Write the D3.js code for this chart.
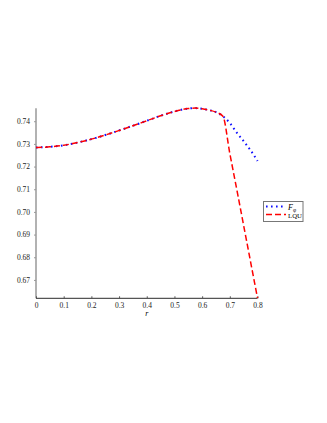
<!DOCTYPE html>
<html><head><meta charset="utf-8">
<script src="https://cdn.jsdelivr.net/npm/d3@7"></script>
<style>body{margin:0;background:#fff}svg{display:block}</style>
</head><body>
<script>
const rValues = [0,0.05,0.1,0.15,0.2,0.25,0.3,0.35,0.4,0.45,0.5,0.55,0.575,0.6,0.625,0.65,0.675,0.7,0.725,0.75,0.775,0.8];
const fphiValues = [0.7284,0.7287,0.7294,0.7306,0.7321,0.7339,0.7359,0.7380,0.7402,0.7424,0.7443,0.7456,0.7458,0.7455,0.7449,0.7440,0.7422,0.7392,0.7350,0.7312,0.7272,0.7225];
const lquValues = [0.7284,0.7287,0.7294,0.7306,0.7321,0.7339,0.7359,0.7380,0.7402,0.7424,0.7443,0.7456,0.7458,0.7455,0.7449,0.7440,0.7422,0.7258,0.7100,0.6940,0.6780,0.6620];
const xTicks = [0,0.1,0.2,0.3,0.4,0.5,0.6,0.7,0.8];
const yTicks = [0.67,0.68,0.69,0.70,0.71,0.72,0.73,0.74];
const seriesNames = ["F", "LQU"];

const W=327,H=423;
const svg=d3.select("body").append("svg").attr("width",W).attr("height",H);
const x=d3.scaleLinear().domain([0,0.8]).range([36,257.5]);
const y=d3.scaleLinear().domain([0.6619,0.7457]).range([298.3,108.3]);
const font="'Liberation Serif', 'Times New Roman', serif";

// axes
const ya=svg.append("g").attr("transform","translate(36,0)")
  .call(d3.axisLeft(y).tickValues(yTicks).tickSize(2).tickFormat(d3.format(".2f")));
ya.select(".domain").attr("stroke","#999").attr("stroke-width",1.5).attr("d",`M0,${y.range()[0]}V${y.range()[1]}`);
ya.selectAll(".tick line").attr("stroke","#999");
ya.selectAll("text").attr("font-family",font).attr("font-size",7.5).attr("fill","#222").attr("x",-6);

const xa=svg.append("g").attr("transform",`translate(0,${y.range()[0]})`)
  .call(d3.axisBottom(x).tickValues(xTicks).tickSize(-2).tickFormat(d=>d===0?"0":d3.format(".1f")(d)));
xa.select(".domain").attr("stroke","#555").attr("stroke-width",1.2).attr("d",`M${x.range()[0]},0H${x.range()[1]}`);
xa.selectAll(".tick line").attr("stroke","#555");
xa.selectAll("text").attr("font-family",font).attr("font-size",7.5).attr("fill","#222").attr("y",4);

svg.append("text").attr("x",x(0.4)).attr("y",316).attr("text-anchor","middle")
  .attr("font-family",font).attr("font-style","italic").attr("font-size",8).text("r");

// lines
const line=d3.line().x(d=>x(d[0])).y(d=>y(d[1])).curve(d3.curveMonotoneX);
svg.append("path").datum(rValues.map((r,i)=>[r,fphiValues[i]]))
  .attr("d",line).attr("fill","none").attr("stroke","#1010ff").attr("stroke-width",2)
  .attr("stroke-dasharray","1.6,3.4");
svg.append("path").datum(rValues.map((r,i)=>[r,lquValues[i]]))
  .attr("d",line).attr("fill","none").attr("stroke","#ff0000").attr("stroke-width",1.5)
  .attr("stroke-dasharray","6,3");

// legend
const lg=svg.append("g");
lg.append("rect").attr("x",263.5).attr("y",201.5).attr("width",39.5).attr("height",20)
  .attr("fill","#fff").attr("stroke","#777").attr("stroke-width",1);
lg.append("line").attr("x1",266).attr("x2",285).attr("y1",206.5).attr("y2",206.5)
  .attr("stroke","#1010ff").attr("stroke-width",2).attr("stroke-dasharray","1.6,3.4");
lg.append("line").attr("x1",266).attr("x2",286).attr("y1",214.5).attr("y2",214.5)
  .attr("stroke","#ff0000").attr("stroke-width",1.5).attr("stroke-dasharray","6,3");
const t1=lg.append("text").attr("x",288).attr("y",209.5).attr("font-family",font).attr("font-size",8);
t1.append("tspan").attr("font-style","italic").text(seriesNames[0]);
t1.append("tspan").attr("font-size",5.5).attr("dy",2).text("φ");
lg.append("text").attr("x",288).attr("y",218).attr("font-family",font).attr("font-size",6.8).text(seriesNames[1]);
</script>
</body></html>
